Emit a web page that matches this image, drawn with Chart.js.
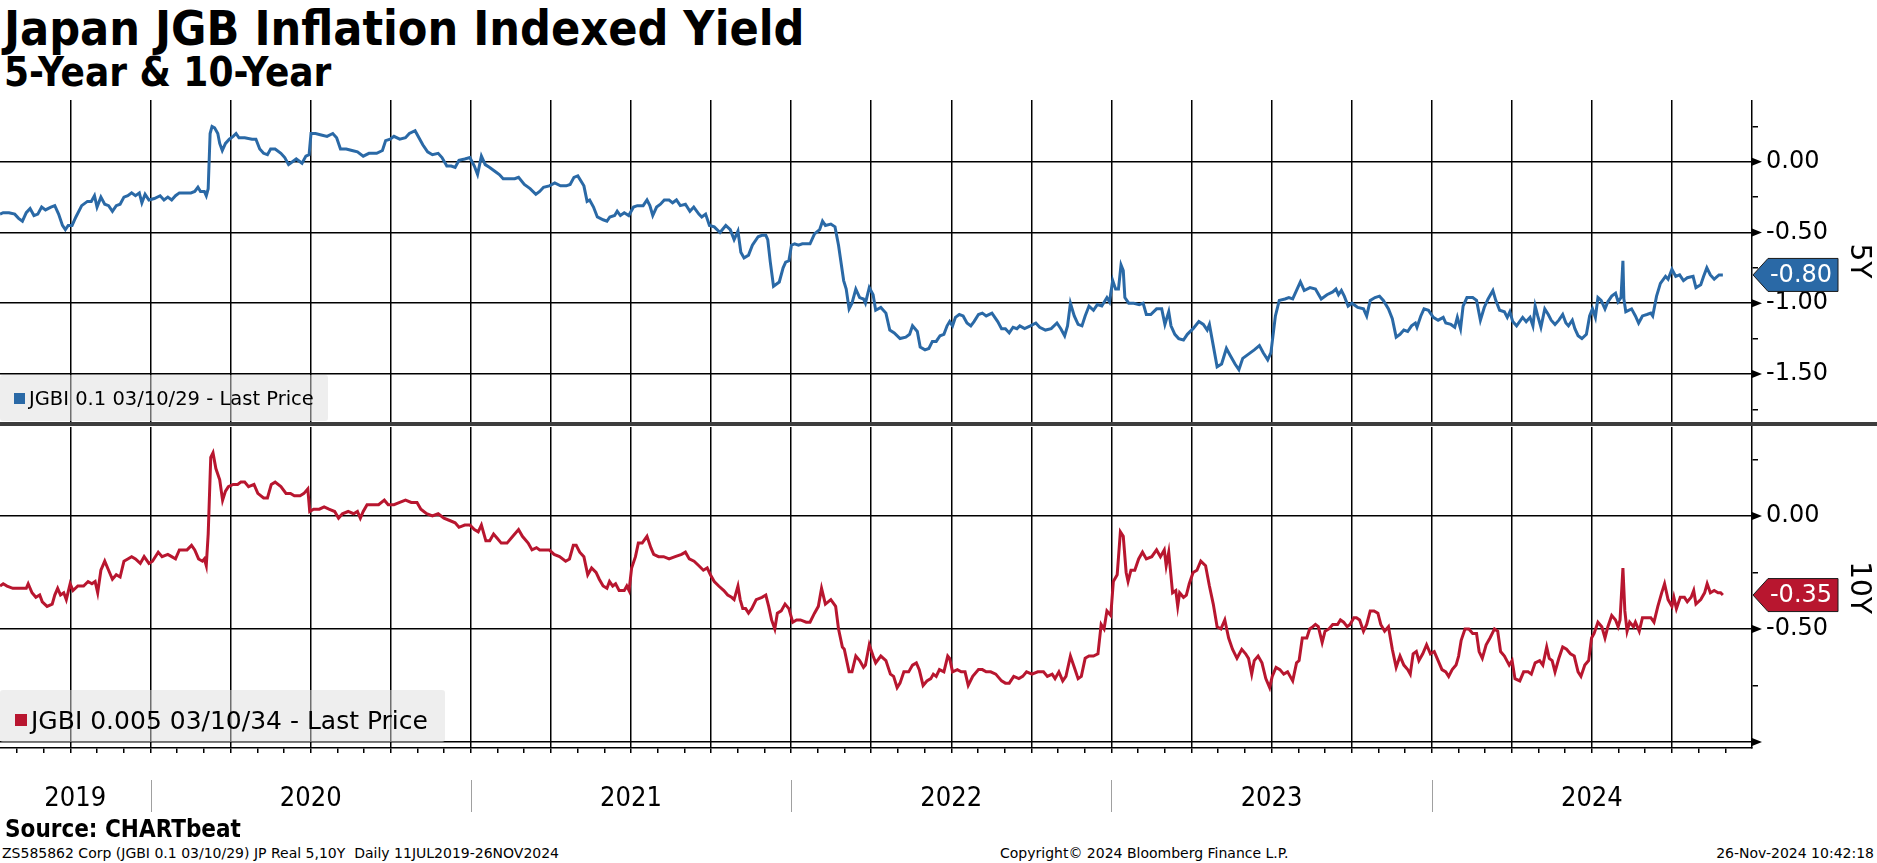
<!DOCTYPE html>
<html>
<head>
<meta charset="utf-8">
<title>Japan JGB Inflation Indexed Yield</title>
<script src="https://cdn.jsdelivr.net/npm/chart.js@4.4.0/dist/chart.umd.min.js"></script>
<style>
    body { margin: 0; width: 1877px; height: 863px; position: relative; overflow: hidden; background: #fff; color: #000; font-family: 'DejaVu Sans', sans-serif; }
    .txt { position: absolute; white-space: nowrap; line-height: 1; }
    .cond { font-family: 'DejaVu Sans Condensed', 'DejaVu Sans', sans-serif; font-stretch: condensed; }
    #title { left: 4px; top: 4px; font-size: 48px; font-weight: bold; }
    #subtitle { left: 4px; top: 52px; font-size: 40px; font-weight: bold; }
    #top-wrap { position: absolute; left: 0; top: 100px; width: 1877px; height: 322px; }
    #divider { position: absolute; left: 0; top: 422px; width: 1877px; height: 4px; background: #3d3d3d; }
    #bottom-wrap { position: absolute; left: 0; top: 426px; width: 1877px; height: 394px; }
    .legend { position: absolute; left: 0; background: rgba(222, 222, 222, 0.5); border-radius: 3px; }
    .legend .swatch { position: absolute; }
    #legend-5y { top: 375px; width: 328px; height: 46px; }
    #legend-10y { top: 690px; width: 445px; height: 52px; }
    #source { left: 5px; top: 817px; font-size: 24px; font-weight: bold; }
    .foot { top: 846px; font-size: 14px; }
</style>
</head>
<body>
<div id="title" class="txt cond">Japan JGB Inflation Indexed Yield</div>
<div id="subtitle" class="txt cond">5-Year &amp; 10-Year</div>

<div id="top-wrap"><canvas id="chart-5y"></canvas></div>
<div id="bottom-wrap"><canvas id="chart-10y"></canvas></div>
<div id="divider"></div>

<div class="legend" id="legend-5y">
    <span class="swatch" style="left:14px; top:18px; width:11px; height:11px; background:#2a69a6;"></span>
    <span class="txt" style="left:29px; top:13.5px; font-size:19.5px;">JGBI 0.1 03/10/29 - Last Price</span>
</div>
<div class="legend" id="legend-10y">
    <span class="swatch" style="left:15px; top:24px; width:12px; height:12px; background:#b8162f;"></span>
    <span class="txt" style="left:31px; top:18px; font-size:25px;">JGBI 0.005 03/10/34 - Last Price</span>
</div>

<div id="source" class="txt cond">Source: CHARTbeat</div>
<div class="txt foot" style="left:2px;">ZS585862 Corp (JGBI 0.1 03/10/29) JP Real 5,10Y&nbsp; Daily 11JUL2019-26NOV2024</div>
<div class="txt foot" style="left:1000px;">Copyright© 2024 Bloomberg Finance L.P.</div>
<div class="txt foot" style="right:3px;">26-Nov-2024 10:42:18</div>

<script>
// x values are decimal years (11 Jul 2019 -> ~2019.53)
const xMin = 2019.53;
const xMax = 2025.0;

const yearLabels = ['2019', '2020', '2021', '2022', '2023', '2024'];
const yearStarts = [2019, 2020, 2021, 2022, 2023, 2024];

const ticks5y  = [-1.75, -1.5, -1.25, -1, -0.75, -0.5, -0.25, 0, 0.25];
const labels5y = ['', '-1.50', '', '-1.00', '', '-0.50', '', '0.00', ''];
const range5y  = [-1.84, 0.437];

const ticks10y  = [-1, -0.75, -0.5, -0.25, 0, 0.25];
const labels10y = ['', '', '-0.50', '', '0.00', ''];
const range10y  = [-1.027, 0.394];

// JGBI 0.1 03/10/29 (5Y), [decimal year, yield]
const jgbi5y = [
    [2019.530,-0.37],[2019.540,-0.36],[2019.558,-0.36],[2019.576,-0.37],[2019.588,-0.40],[2019.600,-0.42],[2019.612,-0.36],[2019.624,-0.33],
    [2019.636,-0.38],[2019.648,-0.37],[2019.660,-0.32],[2019.672,-0.34],[2019.689,-0.32],[2019.701,-0.31],[2019.713,-0.37],[2019.725,-0.45],
    [2019.734,-0.48],[2019.743,-0.45],[2019.755,-0.45],[2019.767,-0.39],[2019.785,-0.31],[2019.803,-0.28],[2019.815,-0.28],[2019.825,-0.24],
    [2019.833,-0.32],[2019.845,-0.25],[2019.857,-0.30],[2019.869,-0.31],[2019.881,-0.35],[2019.893,-0.31],[2019.905,-0.30],[2019.917,-0.25],
    [2019.929,-0.24],[2019.941,-0.22],[2019.953,-0.24],[2019.965,-0.22],[2019.973,-0.29],[2019.983,-0.23],[2019.995,-0.27],[2020.012,-0.26],
    [2020.030,-0.24],[2020.042,-0.27],[2020.054,-0.25],[2020.066,-0.27],[2020.078,-0.24],[2020.090,-0.22],[2020.102,-0.22],[2020.126,-0.22],
    [2020.138,-0.21],[2020.148,-0.18],[2020.156,-0.21],[2020.168,-0.21],[2020.174,-0.24],[2020.180,-0.19],[2020.186,0.20],[2020.192,0.25],
    [2020.200,0.24],[2020.210,0.20],[2020.216,0.13],[2020.224,0.08],[2020.234,0.13],[2020.246,0.16],[2020.258,0.18],[2020.267,0.20],
    [2020.276,0.17],[2020.294,0.17],[2020.317,0.16],[2020.329,0.16],[2020.341,0.09],[2020.353,0.06],[2020.365,0.05],[2020.375,0.09],
    [2020.389,0.09],[2020.407,0.06],[2020.419,0.03],[2020.431,-0.02],[2020.443,0.00],[2020.455,0.02],[2020.473,-0.01],[2020.485,0.04],
    [2020.495,0.05],[2020.501,0.20],[2020.515,0.20],[2020.533,0.19],[2020.551,0.18],[2020.569,0.20],[2020.581,0.17],[2020.593,0.09],
    [2020.611,0.09],[2020.629,0.08],[2020.646,0.07],[2020.664,0.04],[2020.682,0.06],[2020.706,0.06],[2020.724,0.08],[2020.734,0.15],
    [2020.748,0.16],[2020.760,0.18],[2020.778,0.16],[2020.796,0.17],[2020.808,0.20],[2020.826,0.22],[2020.838,0.17],[2020.850,0.12],
    [2020.865,0.07],[2020.880,0.05],[2020.898,0.06],[2020.910,0.03],[2020.925,-0.03],[2020.939,-0.03],[2020.951,-0.04],[2020.963,0.01],
    [2020.981,0.02],[2020.997,0.03],[2021.011,-0.03],[2021.021,-0.09],[2021.033,0.04],[2021.045,-0.02],[2021.059,-0.04],[2021.077,-0.07],
    [2021.089,-0.09],[2021.101,-0.12],[2021.119,-0.12],[2021.137,-0.12],[2021.149,-0.11],[2021.167,-0.16],[2021.185,-0.19],[2021.203,-0.23],
    [2021.215,-0.21],[2021.227,-0.18],[2021.245,-0.17],[2021.262,-0.15],[2021.280,-0.17],[2021.298,-0.17],[2021.310,-0.16],[2021.322,-0.11],
    [2021.334,-0.10],[2021.353,-0.17],[2021.363,-0.28],[2021.371,-0.27],[2021.383,-0.32],[2021.395,-0.39],[2021.413,-0.41],[2021.425,-0.42],
    [2021.434,-0.39],[2021.449,-0.38],[2021.457,-0.35],[2021.467,-0.38],[2021.479,-0.36],[2021.493,-0.38],[2021.508,-0.32],[2021.520,-0.31],
    [2021.538,-0.31],[2021.550,-0.27],[2021.559,-0.31],[2021.568,-0.38],[2021.580,-0.32],[2021.592,-0.30],[2021.604,-0.27],[2021.619,-0.27],
    [2021.630,-0.29],[2021.642,-0.27],[2021.654,-0.31],[2021.670,-0.30],[2021.684,-0.35],[2021.696,-0.32],[2021.712,-0.37],[2021.721,-0.39],
    [2021.733,-0.37],[2021.745,-0.45],[2021.760,-0.46],[2021.778,-0.50],[2021.796,-0.45],[2021.810,-0.48],[2021.822,-0.55],[2021.834,-0.49],
    [2021.843,-0.64],[2021.853,-0.68],[2021.867,-0.66],[2021.879,-0.59],[2021.897,-0.53],[2021.909,-0.52],[2021.921,-0.52],[2021.927,-0.55],
    [2021.935,-0.71],[2021.945,-0.88],[2021.963,-0.85],[2021.975,-0.75],[2021.983,-0.71],[2021.993,-0.70],[2022.001,-0.59],[2022.011,-0.58],
    [2022.023,-0.59],[2022.035,-0.58],[2022.059,-0.58],[2022.073,-0.51],[2022.089,-0.48],[2022.098,-0.42],[2022.107,-0.45],[2022.124,-0.44],
    [2022.137,-0.46],[2022.148,-0.59],[2022.164,-0.84],[2022.172,-0.90],[2022.181,-1.04],[2022.190,-1.00],[2022.202,-0.90],[2022.214,-0.96],
    [2022.226,-0.97],[2022.232,-1.00],[2022.244,-0.89],[2022.256,-0.94],[2022.264,-1.05],[2022.280,-1.03],[2022.296,-1.07],[2022.308,-1.19],
    [2022.322,-1.21],[2022.340,-1.25],[2022.358,-1.24],[2022.370,-1.22],[2022.379,-1.16],[2022.394,-1.20],[2022.403,-1.31],[2022.418,-1.33],
    [2022.430,-1.32],[2022.441,-1.27],[2022.453,-1.27],[2022.465,-1.23],[2022.477,-1.22],[2022.487,-1.16],[2022.495,-1.13],[2022.504,-1.16],
    [2022.513,-1.10],[2022.525,-1.08],[2022.537,-1.09],[2022.549,-1.14],[2022.561,-1.16],[2022.571,-1.13],[2022.585,-1.08],[2022.597,-1.07],
    [2022.609,-1.09],[2022.627,-1.07],[2022.645,-1.13],[2022.657,-1.18],[2022.669,-1.18],[2022.681,-1.21],[2022.693,-1.17],[2022.705,-1.18],
    [2022.714,-1.16],[2022.729,-1.18],[2022.747,-1.16],[2022.764,-1.14],[2022.776,-1.17],[2022.794,-1.19],[2022.812,-1.18],[2022.830,-1.14],
    [2022.842,-1.18],[2022.854,-1.23],[2022.863,-1.16],[2022.872,-1.00],[2022.884,-1.09],[2022.896,-1.15],[2022.908,-1.16],[2022.918,-1.09],
    [2022.930,-1.02],[2022.944,-1.05],[2022.956,-1.01],[2022.970,-1.02],[2022.986,-0.96],[2022.994,-0.99],[2023.004,-0.84],[2023.013,-0.90],
    [2023.022,-0.90],[2023.030,-0.73],[2023.037,-0.77],[2023.042,-0.96],[2023.054,-1.00],[2023.070,-1.00],[2023.087,-1.01],[2023.099,-1.00],
    [2023.109,-1.08],[2023.123,-1.08],[2023.141,-1.04],[2023.157,-1.04],[2023.167,-1.15],[2023.179,-1.06],[2023.186,-1.16],[2023.198,-1.22],
    [2023.210,-1.25],[2023.225,-1.26],[2023.237,-1.22],[2023.255,-1.18],[2023.273,-1.13],[2023.287,-1.15],[2023.299,-1.19],[2023.306,-1.15],
    [2023.318,-1.30],[2023.330,-1.45],[2023.344,-1.43],[2023.359,-1.32],[2023.371,-1.37],[2023.386,-1.43],[2023.398,-1.47],[2023.410,-1.39],
    [2023.428,-1.36],[2023.446,-1.33],[2023.462,-1.30],[2023.474,-1.35],[2023.488,-1.40],[2023.498,-1.35],[2023.512,-1.09],[2023.524,-0.98],
    [2023.542,-0.97],[2023.554,-0.96],[2023.566,-0.97],[2023.578,-0.91],[2023.590,-0.85],[2023.602,-0.91],[2023.620,-0.89],[2023.637,-0.90],
    [2023.655,-0.97],[2023.673,-0.94],[2023.691,-0.92],[2023.701,-0.90],[2023.709,-0.94],[2023.718,-0.91],[2023.727,-0.95],[2023.739,-1.02],
    [2023.751,-1.00],[2023.769,-1.03],[2023.787,-1.04],[2023.797,-1.09],[2023.808,-0.98],[2023.823,-0.96],[2023.837,-0.95],[2023.849,-0.98],
    [2023.865,-1.04],[2023.877,-1.11],[2023.889,-1.24],[2023.901,-1.22],[2023.913,-1.19],[2023.925,-1.20],[2023.937,-1.16],[2023.949,-1.14],
    [2023.954,-1.17],[2023.966,-1.09],[2023.976,-1.04],[2023.990,-1.05],[2024.005,-1.10],[2024.020,-1.12],[2024.036,-1.10],[2024.044,-1.14],
    [2024.060,-1.15],[2024.072,-1.17],[2024.080,-1.10],[2024.090,-1.18],[2024.098,-1.02],[2024.110,-0.96],[2024.128,-0.96],[2024.140,-0.98],
    [2024.152,-1.12],[2024.164,-1.03],[2024.176,-0.97],[2024.191,-0.91],[2024.200,-0.98],[2024.212,-1.05],[2024.227,-1.06],[2024.236,-1.10],
    [2024.244,-1.06],[2024.253,-1.13],[2024.265,-1.16],[2024.284,-1.10],[2024.295,-1.13],[2024.307,-1.10],[2024.316,-1.16],[2024.323,-1.02],
    [2024.331,-1.09],[2024.341,-1.17],[2024.353,-1.04],[2024.364,-1.08],[2024.373,-1.12],[2024.385,-1.15],[2024.397,-1.12],[2024.409,-1.08],
    [2024.419,-1.14],[2024.427,-1.16],[2024.439,-1.12],[2024.447,-1.18],[2024.457,-1.23],[2024.469,-1.25],[2024.483,-1.22],[2024.493,-1.09],
    [2024.502,-1.04],[2024.511,-1.10],[2024.519,-0.96],[2024.529,-0.98],[2024.541,-1.04],[2024.550,-0.99],[2024.562,-0.95],[2024.574,-0.93],
    [2024.582,-0.99],[2024.591,-0.96],[2024.597,-0.70],[2024.600,-0.97],[2024.606,-1.06],[2024.624,-1.04],[2024.636,-1.09],[2024.646,-1.14],
    [2024.658,-1.09],[2024.672,-1.08],[2024.684,-1.07],[2024.690,-1.09],[2024.702,-0.95],[2024.714,-0.86],[2024.730,-0.81],[2024.738,-0.83],
    [2024.750,-0.76],[2024.762,-0.81],[2024.774,-0.80],[2024.786,-0.84],[2024.798,-0.82],[2024.816,-0.81],[2024.825,-0.89],[2024.840,-0.87],
    [2024.849,-0.81],[2024.859,-0.75],[2024.870,-0.80],[2024.882,-0.83],[2024.897,-0.80],[2024.909,-0.80]
];

// JGBI 0.005 03/10/34 (10Y), [decimal year, yield]
const jgbi10y = [
    [2019.530,-0.31],[2019.540,-0.30],[2019.552,-0.31],[2019.570,-0.32],[2019.588,-0.32],[2019.600,-0.32],[2019.612,-0.32],[2019.618,-0.30],
    [2019.630,-0.34],[2019.642,-0.36],[2019.654,-0.35],[2019.662,-0.38],[2019.677,-0.40],[2019.693,-0.39],[2019.701,-0.35],[2019.710,-0.32],
    [2019.719,-0.35],[2019.729,-0.34],[2019.737,-0.37],[2019.749,-0.30],[2019.758,-0.33],[2019.773,-0.31],[2019.791,-0.31],[2019.805,-0.29],
    [2019.817,-0.30],[2019.827,-0.29],[2019.835,-0.34],[2019.845,-0.24],[2019.857,-0.20],[2019.869,-0.24],[2019.881,-0.28],[2019.893,-0.26],
    [2019.905,-0.27],[2019.917,-0.20],[2019.929,-0.19],[2019.941,-0.18],[2019.953,-0.19],[2019.968,-0.21],[2019.980,-0.18],[2019.995,-0.21],
    [2020.006,-0.20],[2020.024,-0.16],[2020.036,-0.18],[2020.054,-0.17],[2020.066,-0.18],[2020.078,-0.19],[2020.090,-0.15],[2020.114,-0.15],
    [2020.128,-0.13],[2020.138,-0.15],[2020.150,-0.19],[2020.162,-0.20],[2020.168,-0.19],[2020.174,-0.22],[2020.180,-0.08],[2020.188,0.26],
    [2020.195,0.28],[2020.204,0.21],[2020.216,0.16],[2020.225,0.07],[2020.234,0.11],[2020.243,0.13],[2020.258,0.14],[2020.272,0.14],
    [2020.282,0.15],[2020.294,0.15],[2020.306,0.13],[2020.323,0.14],[2020.335,0.10],[2020.353,0.08],[2020.365,0.08],[2020.377,0.14],
    [2020.389,0.15],[2020.407,0.13],[2020.423,0.10],[2020.437,0.10],[2020.449,0.09],[2020.467,0.09],[2020.479,0.10],[2020.491,0.12],
    [2020.497,0.02],[2020.509,0.03],[2020.527,0.03],[2020.542,0.04],[2020.557,0.03],[2020.575,0.02],[2020.587,-0.01],[2020.599,0.01],
    [2020.617,0.02],[2020.634,0.01],[2020.646,0.02],[2020.655,-0.01],[2020.664,0.02],[2020.676,0.05],[2020.694,0.05],[2020.712,0.05],
    [2020.730,0.07],[2020.742,0.05],[2020.760,0.05],[2020.778,0.06],[2020.796,0.07],[2020.814,0.06],[2020.832,0.06],[2020.844,0.03],
    [2020.862,0.01],[2020.880,0.00],[2020.898,0.01],[2020.916,-0.01],[2020.934,-0.02],[2020.951,-0.03],[2020.963,-0.05],[2020.981,-0.04],
    [2020.997,-0.04],[2021.011,-0.06],[2021.023,-0.07],[2021.033,-0.04],[2021.047,-0.11],[2021.059,-0.11],[2021.071,-0.08],[2021.083,-0.10],
    [2021.095,-0.12],[2021.113,-0.12],[2021.131,-0.09],[2021.149,-0.06],[2021.161,-0.09],[2021.179,-0.12],[2021.191,-0.15],[2021.205,-0.14],
    [2021.215,-0.15],[2021.227,-0.15],[2021.245,-0.15],[2021.260,-0.17],[2021.277,-0.18],[2021.296,-0.20],[2021.308,-0.19],[2021.320,-0.13],
    [2021.329,-0.13],[2021.340,-0.16],[2021.353,-0.18],[2021.365,-0.26],[2021.377,-0.23],[2021.391,-0.25],[2021.401,-0.28],[2021.413,-0.31],
    [2021.425,-0.32],[2021.433,-0.29],[2021.443,-0.31],[2021.452,-0.30],[2021.463,-0.33],[2021.479,-0.33],[2021.487,-0.31],[2021.494,-0.33],
    [2021.502,-0.23],[2021.514,-0.18],[2021.523,-0.12],[2021.535,-0.12],[2021.550,-0.09],[2021.562,-0.14],[2021.571,-0.17],[2021.586,-0.18],
    [2021.602,-0.18],[2021.619,-0.19],[2021.638,-0.18],[2021.658,-0.17],[2021.670,-0.16],[2021.682,-0.19],[2021.697,-0.20],[2021.712,-0.22],
    [2021.726,-0.24],[2021.738,-0.23],[2021.748,-0.26],[2021.760,-0.29],[2021.774,-0.31],[2021.790,-0.33],[2021.802,-0.35],[2021.814,-0.36],
    [2021.822,-0.37],[2021.834,-0.31],[2021.841,-0.37],[2021.849,-0.41],[2021.858,-0.41],[2021.867,-0.43],[2021.877,-0.41],[2021.891,-0.37],
    [2021.909,-0.36],[2021.921,-0.35],[2021.930,-0.40],[2021.939,-0.46],[2021.949,-0.50],[2021.957,-0.43],[2021.969,-0.42],[2021.981,-0.39],
    [2021.993,-0.41],[2022.005,-0.47],[2022.017,-0.46],[2022.029,-0.46],[2022.047,-0.47],[2022.059,-0.47],[2022.073,-0.43],[2022.085,-0.40],
    [2022.095,-0.32],[2022.107,-0.39],[2022.124,-0.37],[2022.139,-0.40],[2022.148,-0.50],[2022.160,-0.58],[2022.166,-0.59],[2022.181,-0.69],
    [2022.190,-0.69],[2022.202,-0.62],[2022.214,-0.64],[2022.226,-0.67],[2022.232,-0.66],[2022.244,-0.57],[2022.256,-0.62],[2022.264,-0.65],
    [2022.280,-0.62],[2022.296,-0.64],[2022.310,-0.70],[2022.320,-0.71],[2022.331,-0.76],[2022.340,-0.74],[2022.352,-0.69],[2022.367,-0.69],
    [2022.379,-0.66],[2022.391,-0.65],[2022.400,-0.68],[2022.412,-0.75],[2022.424,-0.73],[2022.436,-0.72],[2022.444,-0.70],[2022.453,-0.71],
    [2022.463,-0.68],[2022.477,-0.69],[2022.489,-0.62],[2022.495,-0.63],[2022.504,-0.69],[2022.519,-0.68],[2022.531,-0.69],[2022.543,-0.69],
    [2022.553,-0.75],[2022.567,-0.71],[2022.585,-0.68],[2022.597,-0.68],[2022.609,-0.69],[2022.623,-0.69],[2022.639,-0.70],[2022.657,-0.73],
    [2022.669,-0.74],[2022.681,-0.74],[2022.695,-0.71],[2022.711,-0.72],[2022.723,-0.71],[2022.735,-0.69],[2022.752,-0.70],[2022.770,-0.69],
    [2022.788,-0.69],[2022.800,-0.71],[2022.815,-0.70],[2022.824,-0.72],[2022.836,-0.69],[2022.848,-0.73],[2022.858,-0.71],[2022.872,-0.62],
    [2022.884,-0.67],[2022.896,-0.72],[2022.906,-0.71],[2022.918,-0.63],[2022.930,-0.62],[2022.944,-0.62],[2022.958,-0.61],[2022.968,-0.48],
    [2022.977,-0.50],[2022.986,-0.42],[2022.998,-0.44],[2023.006,-0.29],[2023.018,-0.26],[2023.028,-0.07],[2023.037,-0.09],[2023.046,-0.25],
    [2023.052,-0.29],[2023.061,-0.24],[2023.073,-0.24],[2023.085,-0.19],[2023.097,-0.16],[2023.109,-0.19],[2023.126,-0.18],[2023.141,-0.15],
    [2023.153,-0.18],[2023.165,-0.15],[2023.171,-0.22],[2023.179,-0.16],[2023.191,-0.34],[2023.201,-0.33],[2023.207,-0.40],[2023.213,-0.34],
    [2023.225,-0.36],[2023.234,-0.35],[2023.243,-0.30],[2023.255,-0.25],[2023.267,-0.24],[2023.279,-0.20],[2023.294,-0.22],[2023.306,-0.31],
    [2023.318,-0.39],[2023.330,-0.49],[2023.342,-0.50],[2023.354,-0.46],[2023.366,-0.54],[2023.378,-0.59],[2023.392,-0.63],[2023.407,-0.59],
    [2023.419,-0.61],[2023.428,-0.63],[2023.438,-0.70],[2023.446,-0.64],[2023.458,-0.62],[2023.470,-0.65],[2023.482,-0.72],[2023.494,-0.76],
    [2023.502,-0.71],[2023.514,-0.67],[2023.526,-0.68],[2023.538,-0.70],[2023.550,-0.69],[2023.566,-0.73],[2023.578,-0.65],[2023.586,-0.64],
    [2023.596,-0.54],[2023.610,-0.54],[2023.619,-0.50],[2023.629,-0.49],[2023.637,-0.48],[2023.646,-0.49],[2023.658,-0.56],[2023.667,-0.51],
    [2023.679,-0.50],[2023.691,-0.48],[2023.706,-0.48],[2023.715,-0.46],[2023.725,-0.47],[2023.736,-0.49],[2023.745,-0.48],[2023.757,-0.45],
    [2023.765,-0.45],[2023.775,-0.46],[2023.787,-0.51],[2023.797,-0.48],[2023.808,-0.42],[2023.820,-0.42],[2023.832,-0.43],[2023.841,-0.48],
    [2023.853,-0.51],[2023.865,-0.49],[2023.877,-0.59],[2023.889,-0.67],[2023.901,-0.62],[2023.913,-0.66],[2023.925,-0.68],[2023.933,-0.70],
    [2023.942,-0.61],[2023.952,-0.60],[2023.960,-0.64],[2023.972,-0.61],[2023.984,-0.57],[2023.996,-0.61],[2024.008,-0.60],[2024.020,-0.64],
    [2024.032,-0.68],[2024.044,-0.69],[2024.053,-0.71],[2024.064,-0.68],[2024.076,-0.66],[2024.084,-0.62],[2024.092,-0.55],[2024.104,-0.50],
    [2024.116,-0.50],[2024.128,-0.52],[2024.140,-0.52],[2024.148,-0.60],[2024.158,-0.63],[2024.170,-0.57],[2024.182,-0.54],[2024.196,-0.50],
    [2024.206,-0.51],[2024.215,-0.60],[2024.227,-0.62],[2024.242,-0.66],[2024.251,-0.64],[2024.260,-0.72],[2024.275,-0.73],[2024.287,-0.69],
    [2024.301,-0.69],[2024.311,-0.70],[2024.323,-0.65],[2024.337,-0.64],[2024.347,-0.66],[2024.359,-0.58],[2024.367,-0.63],[2024.376,-0.64],
    [2024.385,-0.69],[2024.397,-0.63],[2024.409,-0.58],[2024.421,-0.59],[2024.433,-0.61],[2024.445,-0.62],[2024.457,-0.69],[2024.466,-0.71],
    [2024.478,-0.66],[2024.490,-0.64],[2024.499,-0.54],[2024.507,-0.52],[2024.519,-0.47],[2024.531,-0.49],[2024.541,-0.54],[2024.550,-0.49],
    [2024.562,-0.44],[2024.574,-0.46],[2024.582,-0.49],[2024.588,-0.46],[2024.597,-0.23],[2024.603,-0.42],[2024.610,-0.51],[2024.618,-0.47],
    [2024.630,-0.49],[2024.636,-0.47],[2024.648,-0.51],[2024.658,-0.45],[2024.670,-0.45],[2024.684,-0.45],[2024.694,-0.47],[2024.706,-0.40],
    [2024.718,-0.34],[2024.727,-0.30],[2024.738,-0.37],[2024.750,-0.40],[2024.756,-0.36],[2024.764,-0.41],[2024.776,-0.36],[2024.789,-0.36],
    [2024.798,-0.38],[2024.810,-0.36],[2024.818,-0.33],[2024.825,-0.39],[2024.840,-0.37],[2024.852,-0.34],[2024.860,-0.30],[2024.870,-0.34],
    [2024.882,-0.33],[2024.894,-0.34],[2024.902,-0.34],[2024.909,-0.35]
];

const blue = '#2a69a6';
const red = '#b8162f';
const clear = 'rgba(0,0,0,0)';
const axisFont = "'DejaVu Sans', sans-serif";

// grid positions: quarter lines across the plot, month marks under the axis
const quarterTicks = [];
for (let m = 2019 * 12 + 9; m < 2025 * 12; m += 3) quarterTicks.push(m / 12);
const monthTicks = [];
for (let m = 2019 * 12 + 7; m < 2025 * 12; m++) monthTicks.push(m / 12);

function isQuarter(v) { return Math.abs(v * 4 - Math.round(v * 4)) < 1e-6; }
function isHalf(v) { return Math.abs(v * 2 - Math.round(v * 2)) < 1e-6; }

// arrow heads on the right axis and the last-value tag
const axisMarks = {
    id: 'axisMarks',
    afterDraw(chart, args, opts) {
        const ctx = chart.ctx;
        const y = chart.scales.y;
        const left = chart.chartArea.right;
        ctx.save();
        ctx.fillStyle = '#000';
        y.ticks.forEach(function(t) {
            if (!isHalf(t.value)) return;
            const py = y.getPixelForValue(t.value);
            ctx.beginPath();
            ctx.moveTo(left, py - 4);
            ctx.lineTo(left + 10, py);
            ctx.lineTo(left, py + 4);
            ctx.closePath();
            ctx.fill();
        });

        const data = chart.data.datasets[0].data;
        const last = data[data.length - 1];
        const py = y.getPixelForValue(last.y);
        const h = 16.5;
        ctx.beginPath();
        ctx.moveTo(left + 1, py);
        ctx.lineTo(left + 16, py - h);
        ctx.lineTo(left + 86, py - h);
        ctx.lineTo(left + 86, py + h);
        ctx.lineTo(left + 16, py + h);
        ctx.closePath();
        ctx.fillStyle = opts.color;
        ctx.fill();
        ctx.lineWidth = 1;
        ctx.strokeStyle = '#1a1a1a';
        ctx.stroke();
        ctx.fillStyle = '#fff';
        ctx.font = '24px ' + axisFont;
        ctx.textAlign = 'center';
        ctx.textBaseline = 'middle';
        ctx.fillText(last.y.toFixed(2), left + 49, py + 1);
        ctx.restore();
    }
};

// year captions under the bottom panel
const yearRow = {
    id: 'yearRow',
    afterDraw(chart) {
        const ctx = chart.ctx;
        const x = chart.scales.x;
        const base = chart.chartArea.bottom;
        ctx.save();
        ctx.strokeStyle = '#a0a0a0';
        ctx.lineWidth = 1;
        ctx.fillStyle = '#000';
        ctx.font = "27px 'DejaVu Sans Condensed', 'DejaVu Sans', sans-serif";
        ctx.textAlign = 'center';
        ctx.textBaseline = 'alphabetic';
        yearStarts.forEach(function(yr, i) {
            const from = Math.max(yr, xMin);
            const to = Math.min(yr + 1, xMax);
            if (i > 0) {
                const px = Math.round(x.getPixelForValue(yr)) + 0.5;
                ctx.beginPath();
                ctx.moveTo(px, base + 32);
                ctx.lineTo(px, base + 64);
                ctx.stroke();
            }
            const mid = (x.getPixelForValue(from) + x.getPixelForValue(to)) / 2;
            ctx.fillText(yearLabels[i], mid, base + 58);
        });
        ctx.restore();
    }
};

function makeChart(canvasId, points, color, ticks, labels, range, title, bottomAxis) {
    const tickLabel = function(v) {
        const i = ticks.findIndex(function(t) { return Math.abs(t - v) < 1e-6; });
        return i >= 0 ? labels[i] : '';
    };
    return new Chart(document.getElementById(canvasId), {
        type: 'line',
        data: {
            datasets: [{
                data: points.map(function(p) { return {x: p[0], y: p[1]}; }),
                borderColor: color,
                borderWidth: 3,
                pointRadius: 0,
                tension: 0,
                fill: false
            }]
        },
        plugins: bottomAxis ? [axisMarks, yearRow] : [axisMarks],
        options: {
            responsive: true,
            maintainAspectRatio: false,
            animation: false,
            layout: { padding: bottomAxis ? {top: 1, bottom: 67, left: 0, right: 0} : 0 },
            plugins: {
                legend: { display: false },
                tooltip: { enabled: false },
                axisMarks: { color: color }
            },
            scales: {
                x: {
                    type: 'linear',
                    min: xMin,
                    max: xMax,
                    afterBuildTicks: function(axis) {
                        const vals = bottomAxis ? monthTicks : quarterTicks;
                        axis.ticks = vals.map(function(v) { return {value: v}; });
                    },
                    ticks: { display: false },
                    grid: {
                        color: function(c) { return isQuarter(c.tick.value) ? '#000' : clear; },
                        tickColor: '#000',
                        lineWidth: 1.5,
                        drawTicks: bottomAxis,
                        tickLength: 5
                    },
                    border: { display: bottomAxis, color: '#000', width: 1.5 }
                },
                y: {
                    type: 'linear',
                    position: 'right',
                    min: range[0],
                    max: range[1],
                    afterBuildTicks: function(axis) {
                        axis.ticks = ticks.map(function(v) { return {value: v}; });
                    },
                    afterFit: function(axis) {
                        axis.width = 125;
                        axis.paddingTop = 0;
                        axis.paddingBottom = 0;
                    },
                    ticks: {
                        callback: tickLabel,
                        color: '#000',
                        font: { family: axisFont, size: 24 },
                        padding: 8
                    },
                    grid: {
                        color: function(c) { return isHalf(c.tick.value) ? '#000' : clear; },
                        tickColor: function(c) { return isHalf(c.tick.value) ? clear : '#000'; },
                        lineWidth: 1.5,
                        tickLength: 6
                    },
                    border: { color: '#000', width: 1.5 },
                    title: {
                        display: true,
                        text: title,
                        color: '#000',
                        font: { family: axisFont, size: 28 },
                        padding: { top: 2, bottom: 0 }
                    }
                }
            }
        }
    });
}

makeChart('chart-5y', jgbi5y, blue, ticks5y, labels5y, range5y, '5Y', false);
makeChart('chart-10y', jgbi10y, red, ticks10y, labels10y, range10y, '10Y', true);
</script>
</body>
</html>
